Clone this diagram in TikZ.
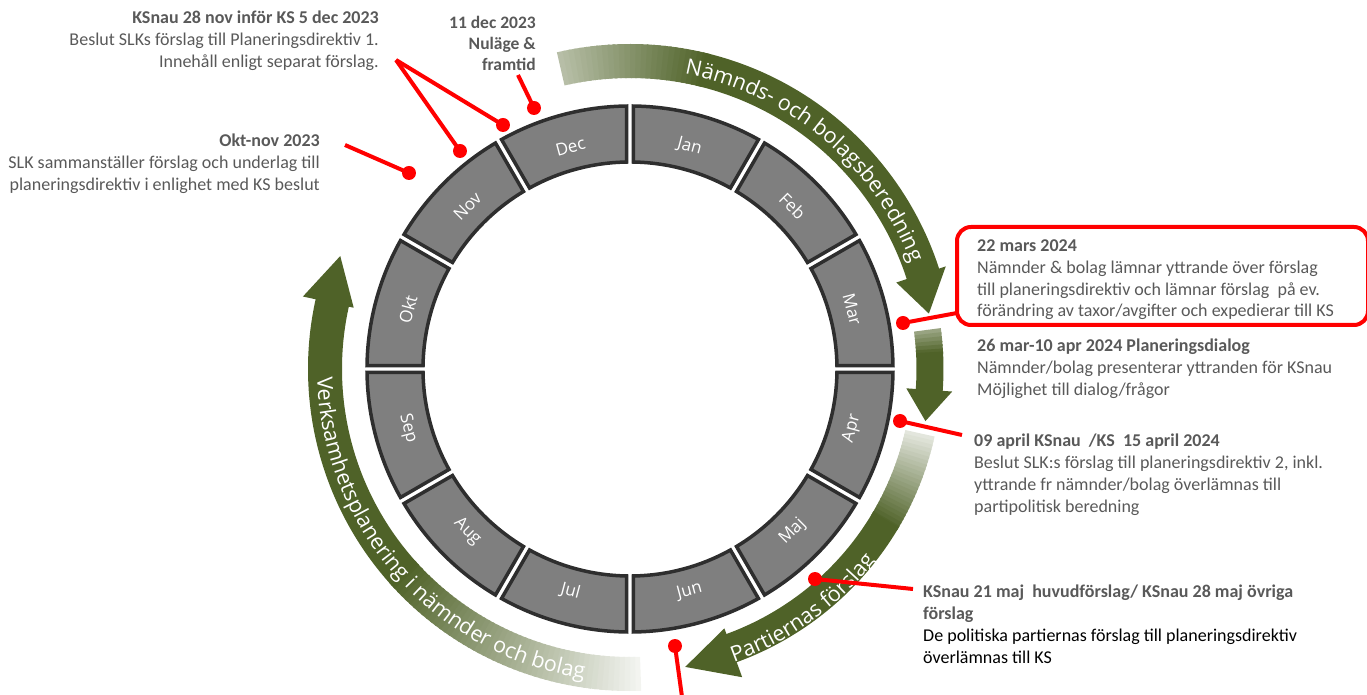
\documentclass[tikz,border=0pt]{standalone}
\usepackage{fontspec}
\setmainfont{Carlito}
\newfontfamily\osans{Open Sans}
\usetikzlibrary{decorations.text}
\definecolor{dgreen}{HTML}{4F6228}
\definecolor{segfill}{HTML}{7F7F7F}
\definecolor{segline}{HTML}{2E2E2E}
\definecolor{txtgray}{HTML}{595959}
\definecolor{rred}{HTML}{FF0000}
\newcommand\ArcBand[5]{%
  \pgfmathsetmacro\rA{#4+#5}%
  \pgfmathsetmacro\rB{#4-#5}%
  \fill[#1] (#2:\rA) arc[start angle=#2, end angle=#3, radius=\rA] -- (#3:\rB) arc[start angle=#3, end angle=#2, radius=\rB] -- cycle;}
\newcommand\FadeBand[6]{% start(light), end(dark), mid r, half w, start pct, steps
  \foreach \k in {1,...,#6}{%
    \pgfmathsetmacro\aa{#1+(#2-#1)*(\k-1)/#6}%
    \pgfmathsetmacro\ab{#1+(#2-#1)*(\k+0.4)/#6}%
    \pgfmathsetmacro\pc{#5+(100-#5)*(\k-0.5)/#6}%
    \ArcBand{dgreen!\pc!white}{\aa}{\ab}{#3}{#4}%
  }}
\newcommand\ArrowHead[5]{% base angle, mid r, half w, tip angle, tip r
  \pgfmathsetmacro\rA{#2+#3}%
  \pgfmathsetmacro\rB{#2-#3}%
  \fill[dgreen] (#1:\rB) -- (#4:#5) -- (#1:\rA) -- cycle;}
\newcommand\arcfont{\color{white}\osans\fontsize{21.5}{21.5}\selectfont}
\begin{document}
\begin{tikzpicture}[x=1pt,y=1pt,
  seg/.style={fill=segfill, draw=segline, line width=3.5pt},
  mon/.style={text=white, font=\osans\fontsize{17}{17}\selectfont, inner sep=0pt},
  redline/.style={draw=rred, line width=4pt},
  reddot/.style={circle, fill=rred, minimum size=14pt, inner sep=0pt},
  info/.style={font=\fontsize{18}{22}\selectfont, text=txtgray, inner sep=0pt},
  redbox/.style={draw=rred, line width=4pt, rounded corners=14pt, inner sep=0pt}]
\useasboundingbox (-630,-326) rectangle (737,369);
% ---- green arrows
% A1 Nämnds- och bolagsberedning
\FadeBand{103}{76}{308}{17}{40}{27}
\ArcBand{dgreen}{76.5}{17}{308}{17}
\ArrowHead{18}{306}{26}{10.5}{304}
% A2 small
\FadeBand{7.5}{3}{300}{13.5}{55}{6}
\ArcBand{dgreen}{3.2}{-4.5}{300}{13.5}
\ArrowHead{-4}{300}{23}{-10}{300}
% A3 Partiernas förslag
\FadeBand{-12.5}{-31}{297}{15}{14}{24}
\ArcBand{dgreen}{-30.5}{-70.5}{297}{15}
\ArrowHead{-70}{302}{26}{-79.5}{303}
% A4 Verksamhetsplanering
\FadeBand{272}{222}{305}{17}{6}{50}
\ArcBand{dgreen}{222.5}{167}{305}{17}
\ArrowHead{167.5}{309}{26}{158.7}{311}
% ---- arc texts
\path[decorate, decoration={text along path, text align=left, text={|\arcfont|Nämnds- och bolagsberedning}}]
  (79.5:300) arc[start angle=79.5, end angle=5, radius=300];
\path[decorate, decoration={text along path, text align=left, text={|\arcfont|Partiernas förslag}}]
  (-70.5:311) arc[start angle=-70.5, end angle=-20, radius=311];
\path[decorate, decoration={text along path, text align=left, text={|\arcfont|Verksamhetsplanering i nämnder och bolag}}]
  (181.5:313) arc[start angle=181.5, end angle=278, radius=313];
% ---- ring of months
\foreach \m [count=\i from 0] in {Jan,Feb,Mar,Apr,Maj,Jun,Jul,Aug,Sep,Okt,Nov,Dec}{
  \pgfmathsetmacro\aS{90-30*\i}
  \pgfmathsetmacro\aE{60-30*\i}
  \pgfmathsetmacro\oo{asin(3.5/263)}
  \pgfmathsetmacro\oi{asin(3.5/207)}
  \pgfmathsetmacro\aSo{\aS-\oo}
  \pgfmathsetmacro\aEo{\aE+\oo}
  \pgfmathsetmacro\aSi{\aS-\oi}
  \pgfmathsetmacro\aEi{\aE+\oi}
  \draw[seg] (\aSo:263) arc[start angle=\aSo, end angle=\aEo, radius=263] -- (\aEi:207) arc[start angle=\aEi, end angle=\aSi, radius=207] -- cycle;
  \pgfmathsetmacro\am{75-30*\i}
  \pgfmathsetmacro\rot{sin(\am)>0 ? \am-90 : \am+90}
  \node[mon, rotate=\rot] (m\m) at (\am:230) {\m};
}
% ---- text blocks
\node[info, align=right, anchor=north east] (tNov) at (-251,358)
  {\textbf{KSnau 28 nov inför KS 5 dec 2023}\\Beslut SLKs förslag till Planeringsdirektiv 1.\\Innehåll enligt separat förslag.};
\node[info, align=right, anchor=north east] (tOkt) at (-310,235)
  {\textbf{Okt-nov 2023}\\SLK sammanställer förslag och underlag till\\planeringsdirektiv i enlighet med KS beslut};
\node[info, align=right, anchor=north east, font=\fontsize{17.5}{21}\selectfont\bfseries] (tDec) at (-94,353)
  {11 dec 2023\\Nuläge \&\\framtid};
\node[redbox, minimum width=411pt, minimum height=98pt, anchor=north west] (box) at (325,144) {};
\node[info, align=left, anchor=north west] (tMar) at (347,130)
  {\textbf{22 mars 2024}\\Nämnder \& bolag lämnar yttrande över förslag\\till planeringsdirektiv och lämnar förslag~ på ev.\\förändring av taxor/avgifter och expedierar till KS};
\node[info, align=left, anchor=north west] (tDia) at (347,30)
  {\textbf{26 mar-10 apr 2024 Planeringsdialog}\\Nämnder/bolag presenterar yttranden för KSnau\\Möjlighet till dialog/frågor};
\node[info, align=left, anchor=north west] (tApr) at (344,-65)
  {\textbf{09 april KSnau~ /KS~ 15 april 2024}\\Beslut SLK:s förslag till planeringsdirektiv 2, inkl.\\yttrande fr nämnder/bolag överlämnas till\\partipolitisk beredning};
\node[info, align=left, anchor=north west] (tMaj) at (293,-216)
  {\textbf{KSnau 21 maj~ huvudförslag/ KSnau 28 maj övriga}\\\textbf{förslag}\\\textcolor{black}{De politiska partiernas förslag till planeringsdirektiv}\\\textcolor{black}{överlämnas till KS}};
% ---- red connectors
\coordinate (sOkt) at (-285,224);
\node[reddot] (dOkt) at (-221,196) {};
\coordinate (sNov) at (-234,309);
\node[reddot] (dNov) at (-170,218) {};
\node[reddot] (dDec) at (-127,244) {};
\coordinate (sDec) at (-112,294);
\node[reddot] (dDec2) at (-96,261) {};
\node[reddot] (dMar) at (273,46) {};
\coordinate (sMar) at (327,56);
\node[reddot] (dApr) at (270,-52) {};
\coordinate (sApr) at (332,-66);
\node[reddot] (dMaj) at (185,-210) {};
\coordinate (sMaj) at (283,-220);
\node[reddot] (dJun) at (45,-277) {};
\coordinate (sJun) at (53,-335);
\draw[redline] (sOkt) -- (dOkt.center);
\draw[redline] (sNov) -- (dNov.center);
\draw[redline] (sNov) -- (dDec.center);
\draw[redline] (sDec) -- (dDec2.center);
\draw[redline] (dMar.center) -- (sMar);
\draw[redline] (dApr.center) -- (sApr);
\draw[redline] (dMaj.center) -- (sMaj);
\draw[redline] (dJun.center) -- (sJun);
\end{tikzpicture}
\end{document}
